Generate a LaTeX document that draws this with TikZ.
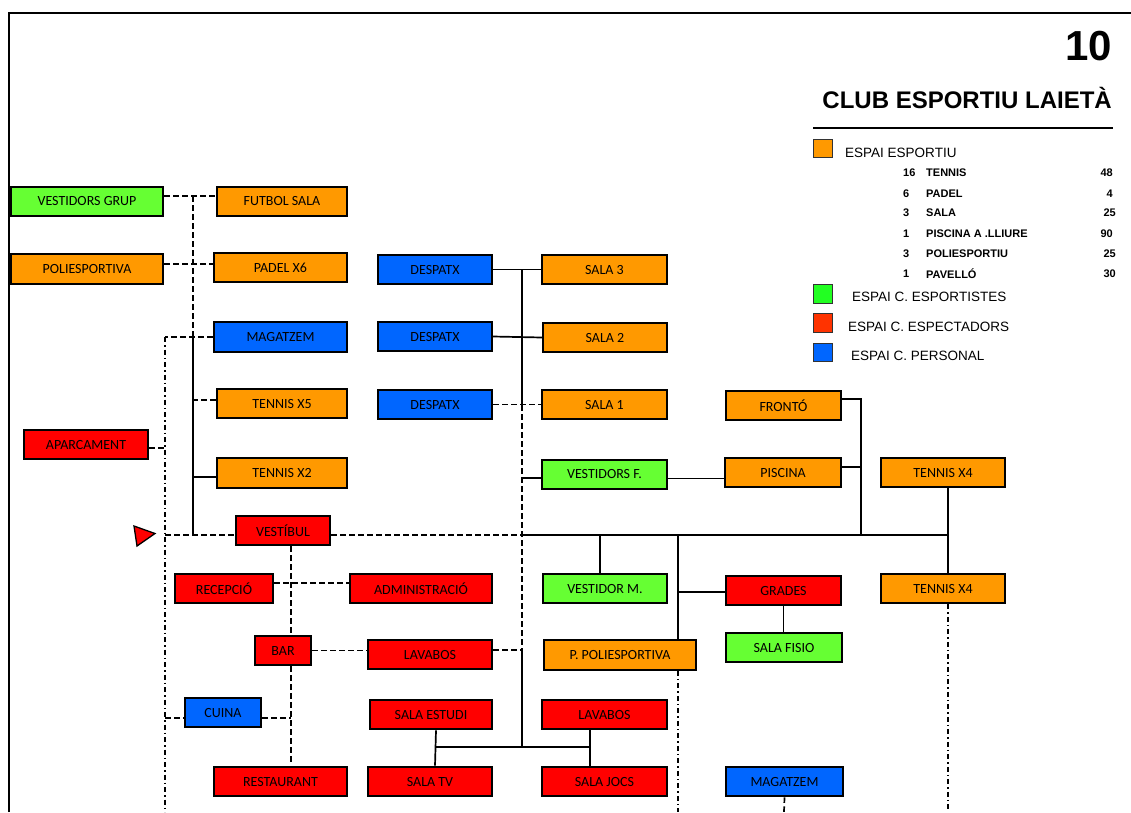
\documentclass[tikz,border=0pt]{standalone}
\usepackage{fontspec}
\setmainfont{Carlito}
\newfontfamily\arialf{Liberation Sans}
\definecolor{cor}{HTML}{FF9900}
\definecolor{cgr}{HTML}{66FF33}
\definecolor{cre}{HTML}{FF0000}
\definecolor{cbl}{HTML}{0066FF}
\definecolor{lgr}{HTML}{22FF22}
\definecolor{lre}{HTML}{FF3300}
\tikzset{
  box/.style={draw=black, line width=2.1pt, inner sep=0pt, minimum height=29.5pt,
    font=\fontsize{14}{16}\selectfont, text=black},
  dsh/.style={line width=1.7pt, dash pattern=on 5.5pt off 3.5pt},
  ddot/.style={line width=1.7pt, dash pattern=on 5pt off 3pt on 1.5pt off 3pt},
  sol/.style={line width=1.7pt},
  lsq/.style={draw=black!80, line width=1.2pt, minimum width=18.5pt, minimum height=18.5pt, inner sep=0pt},
  lhead/.style={font=\arialf\fontsize{13.5}{15}\selectfont, anchor=west, inner sep=0pt},
  lrow/.style={font=\arialf\bfseries\fontsize{11}{13}\selectfont, inner sep=0pt},
}
\begin{document}
\begin{tikzpicture}[x=1pt,y=-1pt]
\useasboundingbox (0,0) rectangle (1131,812);
% frame
\draw[line width=2.4pt] (9,812) -- (9,13) -- (1131,13);
% title
\node[font=\arialf\bfseries\fontsize{42}{44}\selectfont, anchor=east, inner sep=0pt] (num) at (1112,46) {10};
\node[font=\arialf\bfseries\fontsize{24}{26}\selectfont, anchor=east, inner sep=0pt] (title) at (1112,98) {CLUB ESPORTIU LAIETÀ};
\draw[line width=1.5pt] (813,128) -- (1113,128);
% legend
\node[lsq, fill=cor] (lg1) at (823,148.5) {};
\node[lhead] (lt1) at (845,153) {ESPAI ESPORTIU};
\foreach \n/\t/\v/\xr/\yy in {16/TENNIS/48/1113/173, 6/PADEL/4/1113/194, 3/SALA/25/1116/213, 1/PISCINA A .LLIURE/90/1113/234, 3/POLIESPORTIU/25/1116/254, 1/PAVELLÓ/30/1116/274}{
  \node[lrow, anchor=west] at (903,\yy) {\n};
  \node[lrow, anchor=west] at (926,\yy) {\t};
  \node[lrow, anchor=east] at (\xr,\yy) {\v};
}
\node[lsq, fill=lgr] (lg2) at (823,294) {};
\node[lhead] (lt2) at (852,297) {ESPAI C. ESPORTISTES};
\node[lsq, fill=lre] (lg3) at (823,323) {};
\node[lhead] (lt3) at (848,327) {ESPAI C. ESPECTADORS};
\node[lsq, fill=cbl] (lg4) at (823,352.5) {};
\node[lhead] (lt4) at (851,356) {ESPAI C. PERSONAL};

% boxes - left column
\node[box, fill=cgr, minimum width=152pt] (vgrup) at (87,201.5) {VESTIDORS GRUP};
\node[box, fill=cor, minimum width=130pt] (futbol) at (282,201.5) {FUTBOL SALA};
\node[box, fill=cor, minimum width=152pt] (polie) at (87,269) {POLIESPORTIVA};
\node[box, fill=cor, minimum width=133pt] (padel) at (280.5,267.5) {PADEL X6};
\node[box, fill=cbl, minimum width=133pt] (mag1) at (280.5,337) {MAGATZEM};
\node[box, fill=cor, minimum width=130pt] (tx5) at (282,403.5) {TENNIS X5};
\node[box, fill=cre, minimum width=124pt] (aparc) at (86,444.5) {APARCAMENT};
\node[box, fill=cor, minimum width=130pt] (tx2) at (282,473) {TENNIS X2};
\node[box, fill=cre, minimum width=94pt] (vest) at (283,530.5) {VESTÍBUL};
\node[box, fill=cre, minimum width=98pt] (recep) at (224,588.5) {RECEPCIÓ};
\node[box, fill=cre, minimum width=142pt] (admin) at (421,588.5) {ADMINISTRACIÓ};
\node[box, fill=cre, minimum width=56pt] (bar) at (283,650.5) {BAR};
\node[box, fill=cre, minimum width=124pt] (lav1) at (430,654.5) {LAVABOS};
\node[box, fill=cbl, minimum width=76pt] (cuina) at (223,712.5) {CUINA};
\node[box, fill=cre, minimum width=133pt] (rest) at (280.5,781.5) {RESTAURANT};
\node[box, fill=cre, minimum width=122pt] (estudi) at (431,714.5) {SALA ESTUDI};
\node[box, fill=cre, minimum width=124pt] (salatv) at (430,781.5) {SALA TV};
% middle
\node[box, fill=cbl, minimum width=114pt] (desp1) at (435,269.5) {DESPATX};
\node[box, fill=cbl, minimum width=114pt] (desp2) at (435,336.5) {DESPATX};
\node[box, fill=cbl, minimum width=114pt] (desp3) at (435,404.5) {DESPATX};
\node[box, fill=cor, minimum width=125pt] (sala3) at (604.5,269.5) {SALA 3};
\node[box, fill=cor, minimum width=124pt] (sala2) at (605,337.5) {SALA 2};
\node[box, fill=cor, minimum width=125pt] (sala1) at (604.5,404.5) {SALA 1};
\node[box, fill=cgr, minimum width=125pt] (vestf) at (604.5,474.5) {VESTIDORS F.};
\node[box, fill=cgr, minimum width=124pt] (vestm) at (605,588.5) {VESTIDOR M.};
\node[box, fill=cor, minimum width=152pt] (ppoli) at (620,655) {P. POLIESPORTIVA};
\node[box, fill=cre, minimum width=125pt] (lav2) at (604.5,714.5) {LAVABOS};
\node[box, fill=cre, minimum width=125pt] (jocs) at (604.5,781.5) {SALA JOCS};
% right
\node[box, fill=cor, minimum width=115pt] (fronto) at (783.5,405.5) {FRONTÓ};
\node[box, fill=cor, minimum width=116pt] (piscina) at (783,472.5) {PISCINA};
\node[box, fill=cor, minimum width=124pt] (tx4a) at (943,472.5) {TENNIS X4};
\node[box, fill=cre, minimum width=115pt] (grades) at (783.5,590.5) {GRADES};
\node[box, fill=cor, minimum width=124pt] (tx4b) at (943,588.5) {TENNIS X4};
\node[box, fill=cgr, minimum width=116pt] (fisio) at (784,647.5) {SALA FISIO};
\node[box, fill=cbl, minimum width=117pt] (mag2) at (784.5,781.5) {MAGATZEM};

% junction coordinates
\coordinate (jA) at (193,196);
\coordinate (jM) at (193,337);
\coordinate (jV) at (193,535);
\coordinate (jL) at (165,337);
\coordinate (jLb) at (165,812);
\coordinate (jE) at (165,535);
\coordinate (jH) at (522,535);
\coordinate (jR) at (948,535);
\coordinate (jS3) at (522,270);
\coordinate (jS1) at (522,405);
\coordinate (jL1) at (522,650);
\coordinate (jLb1) at (522,747);
\coordinate (jT1) at (436,747);
\coordinate (jT2) at (590,747);
\coordinate (jF1) at (861,399);
\coordinate (jF2) at (861,535);
\coordinate (jP1) at (678,535);
\coordinate (jP2) at (678,592);
\coordinate (jVM) at (600,535);
\coordinate (jC1) at (165,718);
\coordinate (jC2) at (291,718);
\coordinate (bP) at (678,812);
\coordinate (bT) at (948,812);
\coordinate (bM) at (784,812);

% left connectors
\draw[dsh] ([yshift=5.5pt]vgrup.east) -- ([yshift=5.5pt]futbol.west);
\draw[dsh] ([yshift=5pt]polie.east) -- ([yshift=3.5pt]padel.west);
\draw[dsh] (jA) -- (jM);
\draw[sol] (jM) -- (jV);
\draw[dsh] (mag1.west) -- (jL);
\draw[ddot] (jL) -- (jLb);
\draw[dsh] ([yshift=3.5pt]tx5.west) -- ([yshift=3.5pt]tx5.west -| jA);
\draw[sol] ([yshift=-4pt]tx2.west) -- ([yshift=-4pt]tx2.west -| jA);
\draw[dsh] ([yshift=-3.5pt]aparc.east) -- ([yshift=-3.5pt]aparc.east -| jL);
\draw[draw=black, line width=1.3pt, fill=red] (134,526) -- (155,533.5) -- (137,546) -- cycle;
\draw[dsh] (jE) -- (jE -| vest.west);
\draw[dsh] (jE -| vest.east) -- (jH);
\draw[sol] (jH) -- (jR);
\draw[dsh] ([xshift=8pt]vest.south) -- ([xshift=8pt]bar.north);
\draw[dsh] ([xshift=8pt]bar.south) -- ([xshift=10.5pt,yshift=3pt]rest.north);
\draw[dsh] ([yshift=5.5pt]recep.east) -- ([yshift=5.5pt]admin.west);
\draw[dsh] (bar.east) -- (bar.east -| lav1.west);
\draw[dsh] (jC1) -- (jC1 -| cuina.west);
\draw[dsh] (jC2 -| cuina.east) -- (jC2);
% middle connectors
\draw[sol] (desp1.east) -- (sala3.west);
\draw[sol] (desp2.east) -- (sala2.west);
\draw[dsh] (desp3.east) -- (sala1.west);
\draw[sol] (jS3) -- (jS1);
\draw[dsh] (jS1) -- (jL1);
\draw[sol] ([yshift=-3.5pt]vestf.west) -- ([yshift=-3.5pt]vestf.west -| jS1);
\draw[dsh] (jL1 -| lav1.east) -- (jL1);
\draw[sol] (jL1) -- (jLb1);
\draw[sol] (jT1) -- (jT2);
\draw[sol] ([xshift=5pt]estudi.south) -- ([xshift=5pt]salatv.north);
\draw[sol] ([xshift=-14.5pt]lav2.south) -- ([xshift=-14.5pt]jocs.north);
\draw[sol] (vestm.north -| jVM) -- (jVM);
\draw[sol] (jP1) -- (jP1 |- ppoli.north);
\draw[ddot] (jP1 |- ppoli.south) -- (bP);
\draw[sol] (jP2) -- (jP2 -| grades.west);
% right connectors
\draw[sol] ([yshift=-4pt]vestf.east) -- ([yshift=-4pt]vestf.east -| piscina.west);
\draw[sol] ([yshift=6.5pt]fronto.east) -- (jF1) -- (jF2);
\draw[sol] ([yshift=5.5pt]piscina.east) -- ([yshift=5.5pt]piscina.east -| jF1);
\draw[sol] ([xshift=5pt]tx4a.south) -- ([xshift=5pt]tx4b.north);
\draw[ddot] ([xshift=5pt]tx4b.south) -- (bT);
\draw[sol] (grades.south) -- (grades.south |- fisio.north);
\draw[dsh] (mag2.south) -- (bM);
\end{tikzpicture}
\end{document}
